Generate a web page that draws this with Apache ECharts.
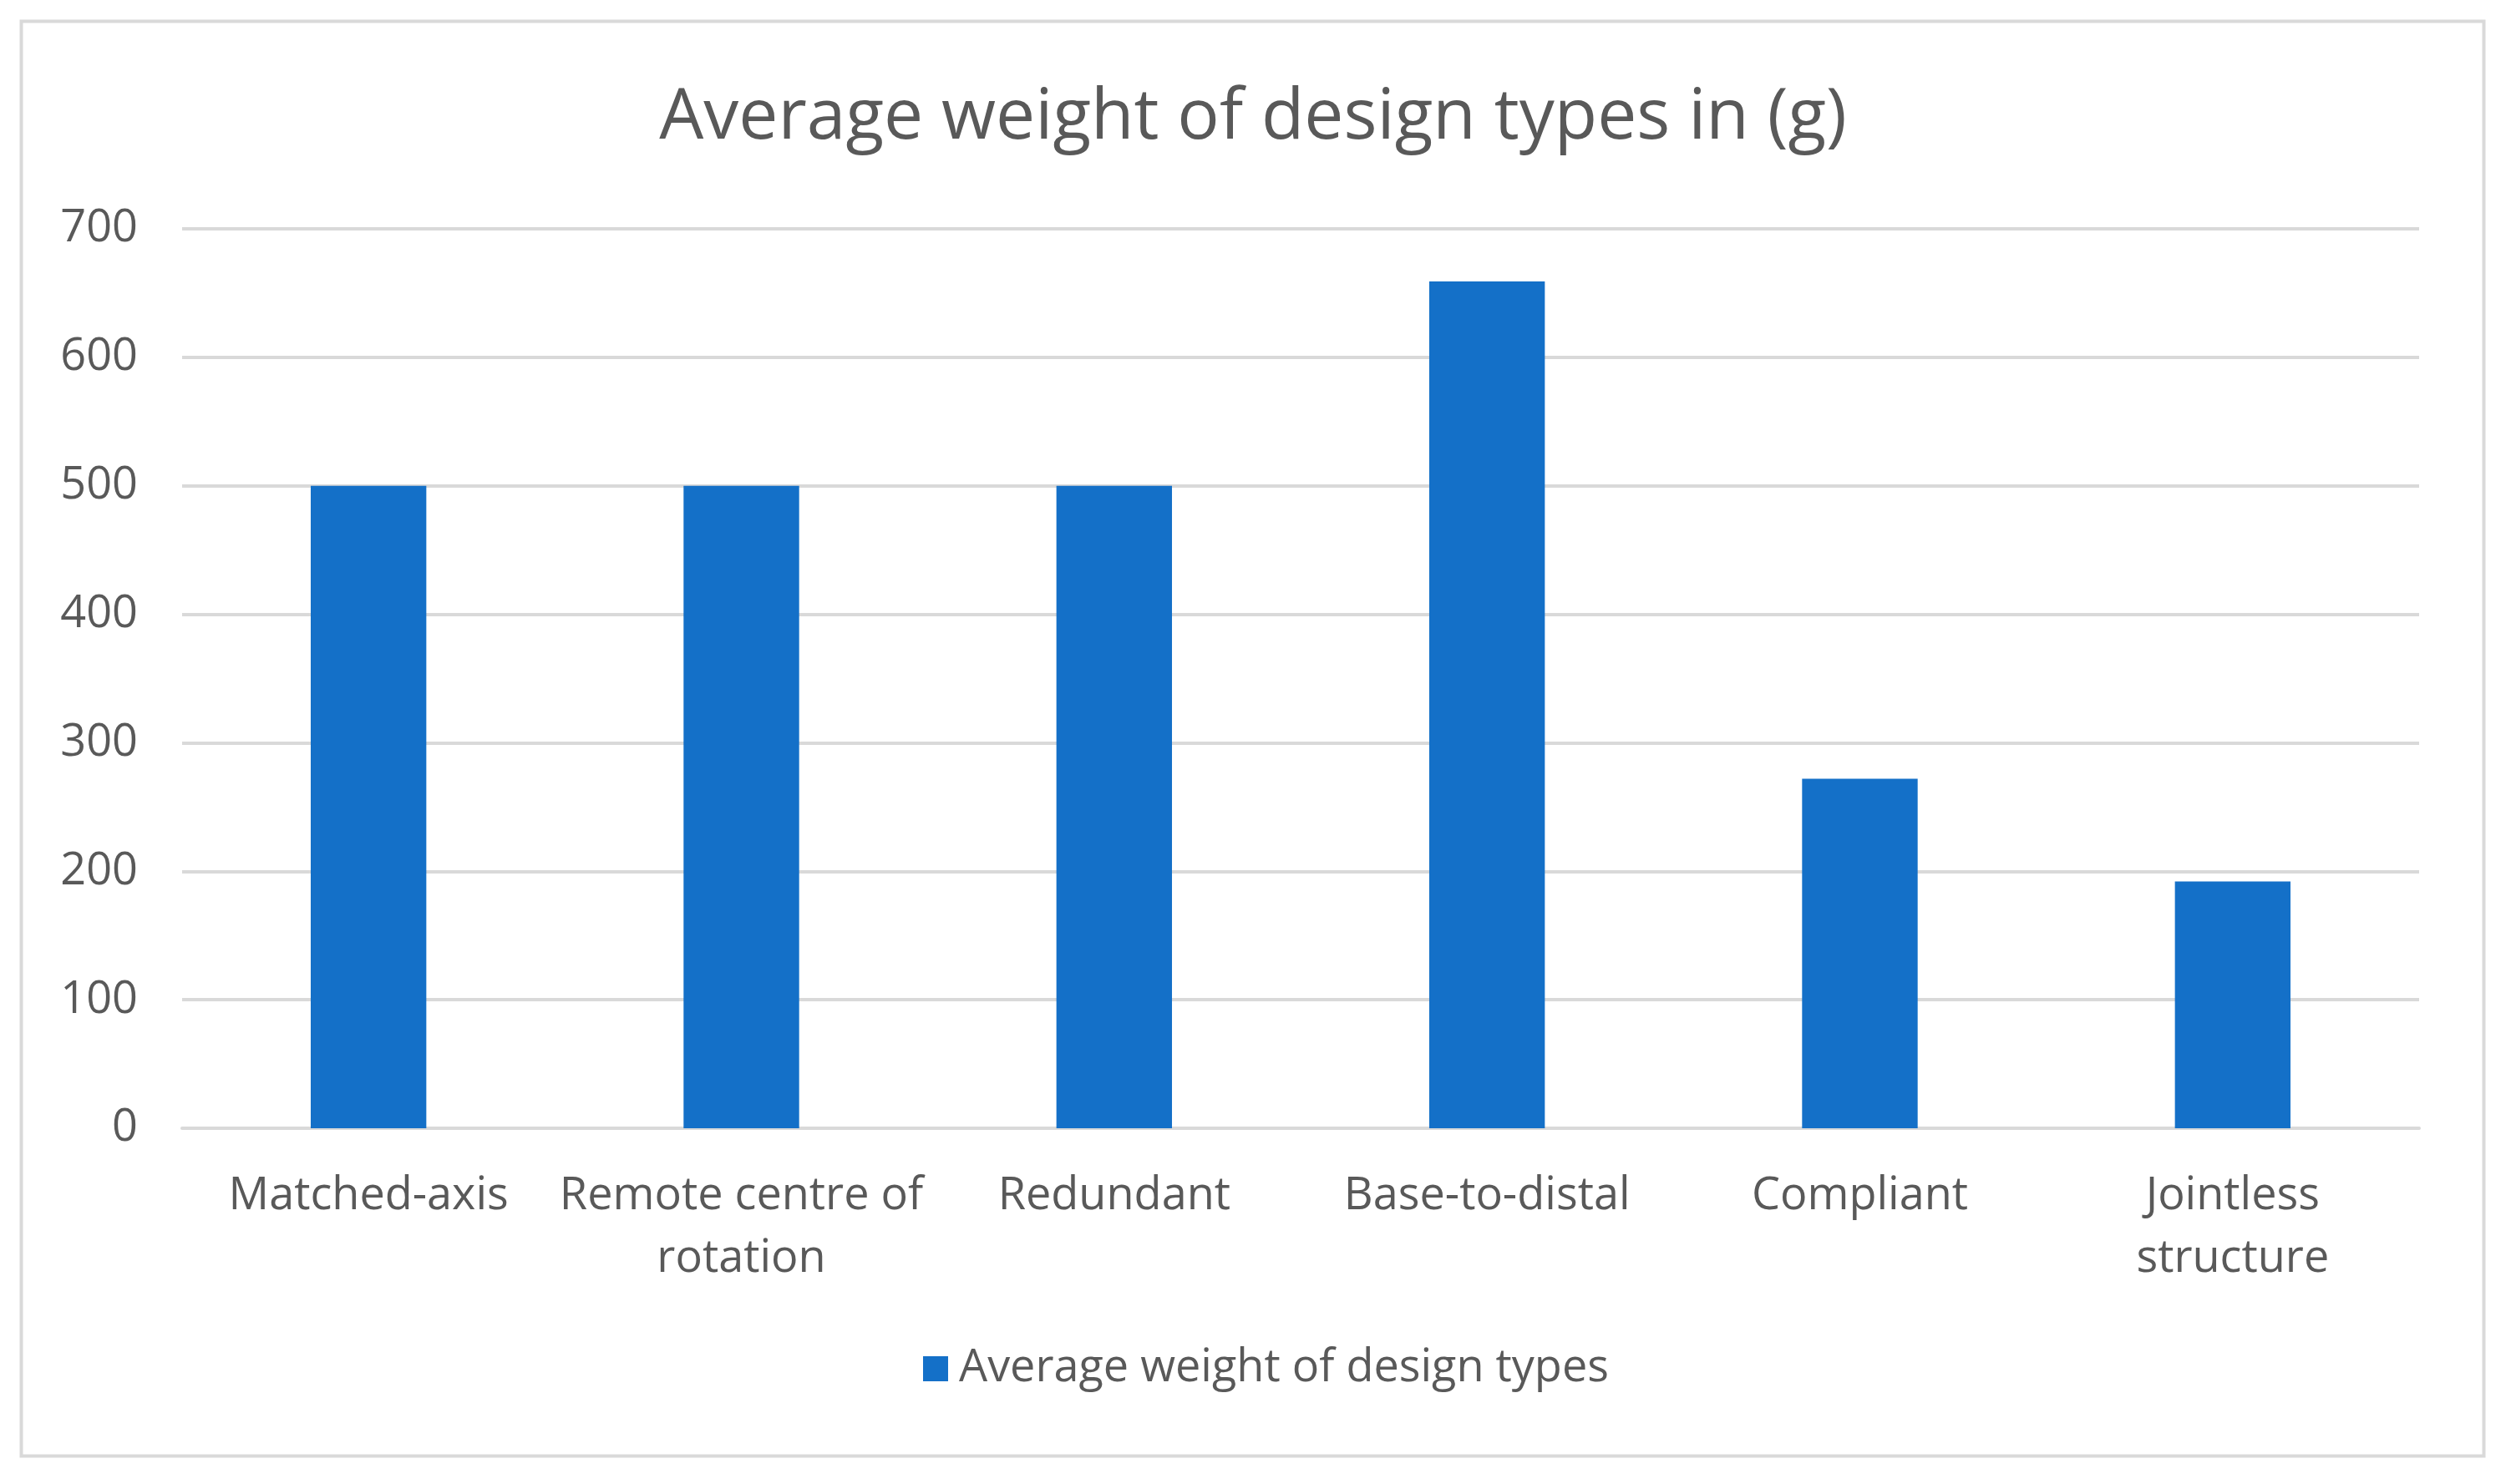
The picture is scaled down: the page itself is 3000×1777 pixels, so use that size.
<!DOCTYPE html>
<html>
<head>
<meta charset="utf-8">
<title>Average weight of design types</title>
<script src="https://cdn.jsdelivr.net/npm/echarts@6/dist/echarts.min.js"></script>
<style>
  html, body { margin: 0; padding: 0; background: #fff; }
  #chart { width: 3000px; height: 1777px; }
</style>
</head>
<body>
<div id="chart"></div>
<script>
var categories = ['Matched-axis', 'Remote centre of rotation', 'Redundant', 'Base-to-distal', 'Compliant', 'Jointless structure'];
var weights = [500, 500, 500, 659, 272, 192];
var seriesName = 'Average weight of design types';
var yTicks = [0, 100, 200, 300, 400, 500, 600, 700];

var textColor = '#595959';
var fontFamily = '"Open Sans", "Noto Sans", sans-serif';

// wrap a label into lines of at most n characters
function wrap(str, n) {
    var words = str.split(' ');
    var lines = [];
    var cur = '';
    for (var i = 0; i < words.length; i++) {
        var next = cur ? cur + ' ' + words[i] : words[i];
        if (next.length > n && cur) {
            lines.push(cur);
            cur = words[i];
        } else {
            cur = next;
        }
    }
    if (cur) lines.push(cur);
    return lines.join('\n');
}

var myChart = echarts.init(document.getElementById('chart'));

var option = {
    backgroundColor: '#fff',
    textStyle: { fontFamily: fontFamily },
    title: {
        text: 'Average weight of design types in (g)',
        left: 'center',
        top: 100,
        padding: 0,
        textStyle: {
            color: textColor,
            fontSize: 84,
            fontWeight: 'normal',
            fontFamily: fontFamily
        }
    },
    legend: {
        data: [seriesName],
        bottom: 106,
        left: 1100,
        icon: 'rect',
        itemWidth: 30,
        itemHeight: 30,
        textStyle: {
            color: textColor,
            fontSize: 54,
            fontFamily: fontFamily,
            padding: [0, 0, 0, 8]
        }
    },
    grid: {
        left: 218,
        right: 104,
        top: 274,
        bottom: 426,
        containLabel: false
    },
    xAxis: {
        type: 'category',
        data: categories,
        axisTick: { show: false },
        axisLine: { lineStyle: { color: '#d9d9d9', width: 4 } },
        axisLabel: {
            color: textColor,
            fontSize: 54,
            lineHeight: 75,
            margin: 44,
            interval: 0,
            fontFamily: fontFamily,
            formatter: function (v) { return wrap(v, 16); }
        }
    },
    yAxis: {
        type: 'value',
        min: yTicks[0],
        max: yTicks[yTicks.length - 1],
        interval: 100,
        axisLine: { show: false },
        axisTick: { show: false },
        splitLine: { lineStyle: { color: '#d9d9d9', width: 4 } },
        axisLabel: {
            color: textColor,
            fontSize: 54,
            margin: 53,
            fontFamily: fontFamily
        }
    },
    series: [
        {
            name: seriesName,
            type: 'bar',
            data: weights,
            barWidth: '31%',
            itemStyle: { color: '#1470C8' }
        }
    ],
    graphic: [
        {
            type: 'rect',
            left: 23,
            top: 23,
            shape: { width: 2948, height: 1718 },
            style: { fill: 'none', stroke: '#d9d9d9', lineWidth: 4 },
            silent: true
        }
    ]
};

myChart.setOption(option);
</script>
</body>
</html>
